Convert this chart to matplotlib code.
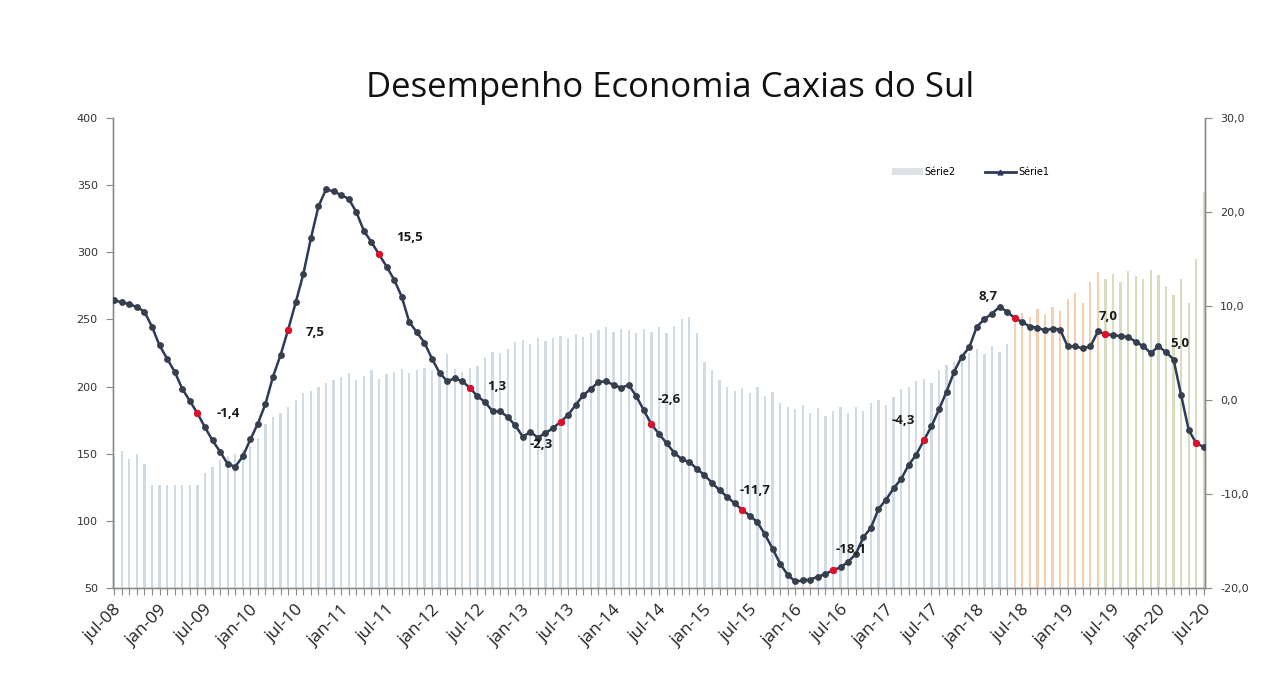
import matplotlib
matplotlib.use("Agg")
import matplotlib.pyplot as plt
from matplotlib.lines import Line2D
from matplotlib.patches import Patch
import numpy as np

# ---------------- data ----------------
tick_labels = ["jul-08", "jan-09", "jul-09", "jan-10", "jul-10", "jan-11", "jul-11",
               "jan-12", "jul-12", "jan-13", "jul-13", "jan-14", "jul-14", "jan-15",
               "jul-15", "jan-16", "jul-16", "jan-17", "jul-17", "jan-18", "jul-18",
               "jan-19", "jul-19", "jan-20", "jul-20"]

serie1 = [10.6, 10.4, 10.2, 9.9, 9.4, 7.8, 5.8, 4.4, 3.0, 1.2,
          -0.1, -1.4, -2.9, -4.3, -5.5, -6.8, -7.1, -6.0, -4.2, -2.5,
          -0.4, 2.5, 4.8, 7.5, 10.4, 13.4, 17.2, 20.6, 22.4, 22.2,
          21.8, 21.4, 20.0, 18.0, 16.8, 15.5, 14.2, 12.8, 11.0, 8.3,
          7.2, 6.1, 4.4, 2.9, 2.0, 2.3, 2.0, 1.3, 0.4, -0.2,
          -1.2, -1.2, -1.8, -2.7, -3.9, -3.4, -4.0, -3.5, -3.0, -2.3,
          -1.6, -0.5, 0.5, 1.2, 1.9, 2.0, 1.6, 1.3, 1.6, 0.4,
          -1.1, -2.6, -3.6, -4.6, -5.6, -6.3, -6.6, -7.3, -8.0, -8.8,
          -9.6, -10.3, -11.0, -11.7, -12.3, -13.0, -14.3, -15.8, -17.4, -18.6,
          -19.3, -19.2, -19.1, -18.8, -18.5, -18.1, -17.8, -17.2, -16.4, -14.6,
          -13.6, -11.6, -10.6, -9.4, -8.4, -6.9, -5.8, -4.3, -2.8, -1.0,
          0.9, 3.0, 4.6, 5.6, 7.8, 8.6, 9.2, 9.9, 9.4, 8.7,
          8.3, 7.8, 7.7, 7.4, 7.6, 7.5, 5.7, 5.7, 5.5, 5.7,
          7.3, 7.0, 6.9, 6.8, 6.7, 6.2, 5.7, 5.0, 5.7, 5.1,
          4.3, 0.5, -3.2, -4.6, -5.0]

serie2 = [148, 152, 146, 150, 142,
          127, 127, 127, 127, 127, 127, 127,
          136, 140, 145, 148, 150, 153, 156, 162, 172, 177, 180, 185, 190, 195, 197, 200, 203, 205,
          207, 210, 205, 208, 212, 206, 209, 211, 213, 210, 212, 214,
          212, 210, 224, 213, 211, 214, 215,
          222, 226, 225, 228,
          233, 235, 232, 236, 234,
          236, 238, 236, 239, 237, 240,
          242, 244, 241, 243, 242,
          240, 243, 241, 244, 240, 245, 250, 252,
          240, 218, 212,
          205, 200, 197, 199, 195, 200, 193, 196,
          188, 185, 183, 186, 180, 184, 178, 182, 185, 180,
          185, 182, 188, 190, 186, 192,
          198, 200, 204, 206, 203,
          212, 216, 218, 222,
          225, 228, 224, 230, 226, 232,
          250, 255, 252, 258, 254, 259, 256,
          265, 270, 262, 278, 285,
          280, 284, 278, 286, 282, 280, 287, 283,
          275, 268, 280, 262, 295,
          345]

label_idx = [11, 23, 35, 47, 59, 71, 83, 95, 107, 119, 131, 143]
label_txt = ["-1,4", "7,5", "15,5", "1,3", "-2,3", "-2,6", "-11,7", "-18,1",
             "-4,3", "8,7", "7,0", "5,0"]

# bar colour periods (first index of each period)
orange_start = 119
green_start = 131

# ---------------- layout ----------------
label_offsets = [(31, 0), (27, -3), (31, 17), (27, 1), (-19, -23), (18, 25),
                 (13, 19), (18, 21), (-21, 20), (-27, 22), (3, 18), (-16, 100)]

W, H = 1271, 695
fig = plt.figure(figsize=(W / 100, H / 100), dpi=100)
fig.patch.set_facecolor("white")
L, R, T, B = 113, 1205, 118, 588
ax = fig.add_axes([L / W, 1 - B / H, (R - L) / W, (B - T) / H])
ax2 = ax.twinx()

n = len(serie1)
x = np.arange(n)

bar_colors = []
for i in range(n):
    if i >= green_start:
        bar_colors.append("#d5dfc0")
    elif i >= orange_start:
        bar_colors.append("#f6cfb2")
    else:
        bar_colors.append("#d0dbe3")
ax.bar(x, np.array(serie2) - 50, bottom=50, width=0.3, color=bar_colors,
       linewidth=0, zorder=1)
ax.set_ylim(50, 400)
ax.set_xlim(-0.15, n - 1 + 0.15)

ax2.plot(x, serie1, color="#2e3a5a", lw=1.8, marker="o", ms=3.9,
         mfc="#363f4c", mec="#363f4c", zorder=3)
ax2.plot([x[i] for i in label_idx], [serie1[i] for i in label_idx], "o",
         ms=4.2, color="#e0102c", zorder=4)
ax2.set_ylim(-20, 30)
ax2.set_yticks(np.arange(-20, 31, 10))
ax2.set_yticklabels([f"{v:.1f}".replace(".", ",") for v in np.arange(-20, 31, 10)])

for i, t, (dx, dy) in zip(label_idx, label_txt, label_offsets):
    ax2.annotate(t, (x[i], serie1[i]), xytext=(dx, dy), textcoords="offset pixels",
                 ha="center", va="center", fontsize=9.5, fontweight="bold",
                 color="#1a1a1a", family="Open Sans", zorder=5)

# axes styling
ax.set_yticks(np.arange(50, 401, 50))
ax.set_xticks(np.arange(0, n, 6))
ax.set_xticklabels(tick_labels, rotation=45, ha="right", rotation_mode="anchor",
                   fontsize=12.5, family="Open Sans", color="#222222")
ax.set_xticks(np.arange(0, n, 1), minor=True)
ax.tick_params(axis="x", which="both", length=5, width=0.8, color="#8a8a8a", pad=5)
ax.tick_params(axis="y", length=5, width=0.8, color="#8a8a8a", labelsize=8,
               labelcolor="#333333", pad=6)
ax2.tick_params(axis="y", length=5, width=0.8, color="#8a8a8a", labelsize=8,
                labelcolor="#333333", pad=6)
for a in (ax, ax2):
    a.spines["top"].set_visible(False)
    for s in ("left", "right", "bottom"):
        a.spines[s].set_color("#8a8a8a")
        a.spines[s].set_linewidth(1.0)
ax.set_facecolor("none")
ax2.set_zorder(ax.get_zorder() + 1)
ax2.patch.set_visible(False)

# legend
handles = [Patch(facecolor="#dde2e6", edgecolor="none", label="Série2"),
           Line2D([0], [0], color="#2e3a5a", lw=2, marker="^", ms=3.5,
                  label="Série1")]
leg = ax2.legend(handles=handles, loc="center", bbox_to_anchor=(0.785, 0.885),
                 ncol=2, frameon=False, fontsize=7, handlelength=3.2,
                 columnspacing=3.0, handletextpad=0.2)

fig.text(670 / W, 1 - 88 / H, "Desempenho Economia Caxias do Sul", ha="center",
         va="center", fontsize=25, family="Open Sans", color="#111111")

fig.savefig("out.png", dpi=100, facecolor="white")
